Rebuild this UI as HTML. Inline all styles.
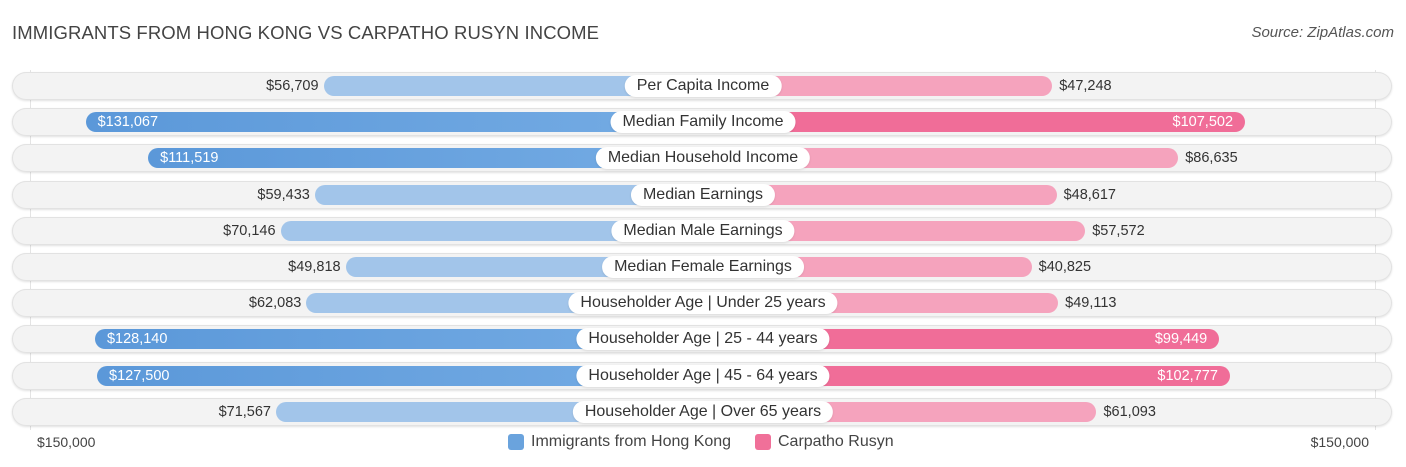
<!DOCTYPE html>
<html><head><meta charset="utf-8"><style>
body{margin:0;background:#fff;font-family:"Liberation Sans",sans-serif;}
#wrap{position:relative;width:1406px;height:467px;overflow:hidden;}
.title{position:absolute;left:12px;top:22px;font-size:18.5px;color:#444;letter-spacing:0.1px}
.src{position:absolute;right:12px;top:24px;font-size:15px;color:#555;font-style:italic}
.row{position:absolute;left:12px;width:1380px;height:28px;border-radius:14px;background:#f3f3f3;box-shadow:inset 0 0 0 1px #e2e2e2, 0 1px 2px rgba(0,0,0,0.12)}
.bar{position:absolute;height:20px;border-radius:10px}
.lbl{position:absolute;height:22px;line-height:22px;padding:0 12px;background:#fff;border-radius:11px;font-size:16px;color:#333;transform:translateX(-50%);white-space:nowrap;box-shadow:0 1px 2px rgba(0,0,0,0.1)}
.val{position:absolute;font-size:14.5px;line-height:20px;white-space:nowrap}
.axis{position:absolute;top:434px;font-size:14px;color:#444}
.leg{position:absolute;top:433px;font-size:16px;color:#444;display:flex;align-items:center}
.sw{width:16px;height:16px;border-radius:3px;margin-right:7px}
</style></head><body>
<div id="wrap">
<div class="title">IMMIGRANTS FROM HONG KONG VS CARPATHO RUSYN INCOME</div>
<div class="src">Source: ZipAtlas.com</div>
<div style="position:absolute;left:30px;top:70px;width:1px;height:360px;background:#e4e4e4"></div>
<div style="position:absolute;left:1375px;top:70px;width:1px;height:360px;background:#e4e4e4"></div>
<div id="rows"></div>
<div class="axis" style="left:37px">$150,000</div>
<div class="axis" style="right:37px">$150,000</div>
<div class="leg" style="left:508px"><div class="sw" style="background:#6aa3dd"></div>Immigrants from Hong Kong</div>
<div class="leg" style="left:755px"><div class="sw" style="background:#f07099"></div>Carpatho Rusyn</div>
</div>
<script>
const categories=["Per Capita Income","Median Family Income","Median Household Income","Median Earnings","Median Male Earnings","Median Female Earnings","Householder Age | Under 25 years","Householder Age | 25 - 44 years","Householder Age | 45 - 64 years","Householder Age | Over 65 years"];
const hongKong=[56709,131067,111519,59433,70146,49818,62083,128140,127500,71567];
const rusyn=[47248,107502,86635,48617,57572,40825,49113,99449,102777,61093];
const cx=703, off=198, k=0.0032;
function w(v){return off+v*k;}
function fmt(v){return "$"+v.toLocaleString("en-US");}
const rows=document.getElementById("rows");
categories.forEach((c,i)=>{
  const yc=86+i*36.2;
  const r=document.createElement("div");r.className="row";r.style.top=(yc-14)+"px";
  
  
  rows.appendChild(r);
  const strongL=hongKong[i]>100000, strongR=rusyn[i]>90000;
  const wl=w(hongKong[i]), wr=w(rusyn[i]);
  const bl=document.createElement("div");bl.className="bar";
  bl.style.cssText+=`left:${cx-wl}px;width:${wl}px;top:${yc-10}px;background:${strongL?'linear-gradient(90deg,#5b98d9,#75acE4)':'#a2c5ea'};border-radius:10px 0 0 10px`;
  
  
  rows.appendChild(bl);
  const br=document.createElement("div");br.className="bar";
  br.style.cssText+=`left:${cx}px;width:${wr}px;top:${yc-10}px;background:${strongR?'#f06d98':'#f5a3bd'};border-radius:0 10px 10px 0`;
  
  
  rows.appendChild(br);
  const vl=document.createElement("div");vl.className="val";vl.textContent=fmt(hongKong[i]);
  
  
  if(strongL){vl.style.cssText+=`left:${cx-wl+12}px;top:${yc-10}px;color:#fff`;}
  else{vl.style.cssText+=`right:${1406-(cx-wl)+5}px;top:${yc-10}px;color:#333`;}
  rows.appendChild(vl);
  const vr=document.createElement("div");vr.className="val";vr.textContent=fmt(rusyn[i]);
  
  
  if(strongR){vr.style.cssText+=`right:${1406-(cx+wr)+12}px;top:${yc-10}px;color:#fff`;}
  else{vr.style.cssText+=`left:${cx+wr+7}px;top:${yc-10}px;color:#333`;}
  rows.appendChild(vr);
  const lb=document.createElement("div");lb.className="lbl";lb.textContent=c;
  lb.style.left=cx+"px";lb.style.top=(yc-11)+"px";
  
  
  rows.appendChild(lb);
});
</script>
</body></html>
